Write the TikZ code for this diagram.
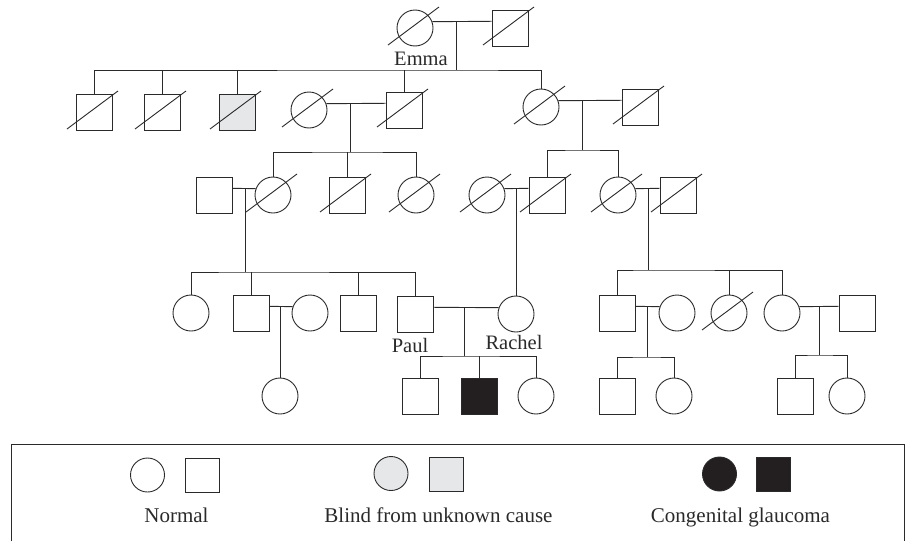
\documentclass[tikz,border=0pt]{standalone}
\usepackage{fontspec}
\setmainfont{Liberation Serif}
\usetikzlibrary{calc}
\definecolor{ink}{HTML}{2A2A2A}
\definecolor{blindgray}{HTML}{E6E7E8}
\definecolor{glaucoma}{HTML}{231F20}
\begin{document}
\begin{tikzpicture}[x=1pt,y=-1pt,line width=0.9pt,
  male/.style={draw=ink,rectangle,minimum size=36pt,inner sep=0pt},
  female/.style={draw=ink,circle,minimum size=36pt,inner sep=0pt},
  keymale/.style={draw=ink,rectangle,minimum size=34pt,inner sep=0pt},
  keyfemale/.style={draw=ink,circle,minimum size=34pt,inner sep=0pt},
  blind/.style={fill=blindgray},
  affected/.style={fill=glaucoma},
  kin/.style={draw=ink},
  deadmark/.style={draw=ink},
  namelabel/.style={font=\fontsize{20.5}{24}\selectfont,inner sep=0pt,anchor=base,text=ink},
  keylabel/.style={font=\fontsize{21}{25}\selectfont,inner sep=0pt,anchor=base,text=ink}]
\useasboundingbox (0,0) rectangle (910,541);

% ---------- generation I ----------
\node[female] (g1f) at (415,28) {};
\node[male]   (g1m) at (510,28) {};
\node[namelabel] (emma) at (421,65) {Emma};

% ---------- generation II ----------
\node[male]        (s1) at (94,112) {};
\node[male]        (s2) at (162,112) {};
\node[male,blind]  (s3) at (237,112) {};
\node[female]      (w2) at (309,110) {};
\node[male]        (s4) at (404,110) {};
\node[female]      (d1) at (541,107) {};
\node[male]        (h1) at (640,107) {};

% ---------- generation III ----------
\node[male]   (h2) at (214,195) {};
\node[female] (d2) at (273,195) {};
\node[male]   (s5) at (347,195) {};
\node[female] (d3) at (416,195) {};
\node[female] (w3) at (487,195) {};
\node[male]   (s6) at (547,195) {};
\node[female] (d4) at (618,195) {};
\node[male]   (h3) at (678,195) {};

% ---------- generation IV ----------
\node[female] (c1)     at (191,313) {};
\node[male]   (c2)     at (251,313) {};
\node[female] (w4)     at (310,313) {};
\node[male]   (c3)     at (358,313) {};
\node[male]   (paul)   at (415,314) {};
\node[female] (rachel) at (516,314) {};
\node[namelabel] (paullbl)   at (410,352) {Paul};
\node[namelabel] (rachellbl) at (514,349) {Rachel};
\node[male]   (r1) at (617,313) {};
\node[female] (rw) at (677,313) {};
\node[female] (r2) at (729,313) {};
\node[female] (r3) at (782,313) {};
\node[male]   (rh) at (857,313) {};

% ---------- generation V ----------
\node[female]        (gc1) at (280,396) {};
\node[male]          (pr1) at (420,396) {};
\node[male,affected] (pr2) at (479,396) {};
\node[female]        (pr3) at (536,396) {};
\node[male]          (ra1) at (617,396) {};
\node[female]        (ra2) at (674,396) {};
\node[male]          (rb1) at (795,396) {};
\node[female]        (rb2) at (847,396) {};

% ---------- marriage lines and descent ----------
% Emma and husband
\draw[kin] (g1f.20) -- (g1m.160);
\coordinate (m1) at ($(g1f.20)!0.4!(g1m.160)$);
\coordinate (k1) at (m1 |- 0,70);
\draw[kin] (m1) -- (k1);
\draw[kin] (s1.north) |- (k1) -| (d1.north);
\foreach \c in {s2,s3,s4} \draw[kin] (\c.north) -- (\c.north |- k1);

% left couple of generation II
\draw[kin] (w2.20) -- (s4.160);
\coordinate (m2) at ($(w2.20)!0.4!(s4.160)$);
\coordinate (k2) at (m2 |- 0,152);
\draw[kin] (m2) -- (k2);
\draw[kin] (d2.north) |- (k2) -| (d3.north);
\draw[kin] (s5.north) -- (s5.north |- k2);

% right couple of generation II
\draw[kin] (d1.20) -- (h1.160);
\coordinate (m3) at ($(d1.20)!0.38!(h1.160)$);
\coordinate (k3) at (m3 |- 0,150);
\draw[kin] (m3) -- (k3);
\draw[kin] (s6.north) |- (k3) -| (d4.north);

% generation III couples
\draw[kin] (h2.20) -- (d2.160);
\coordinate (m4) at ($(h2.20)!0.55!(d2.160)$);
\coordinate (k4) at (m4 |- 0,272);
\draw[kin] (m4) -- (k4);
\draw[kin] (c1.north) |- (k4) -| (paul.north);
\foreach \c in {c2,c3} \draw[kin] (\c.north) -- (\c.north |- k4);

\draw[kin] (w3.20) -- (s6.160);
\coordinate (m5) at (rachel.north |- w3.20);
\draw[kin] (m5) -- (rachel.north);

\draw[kin] (d4.20) -- (h3.160);
\coordinate (m6) at ($(d4.20)!0.55!(h3.160)$);
\coordinate (k6) at (m6 |- 0,270);
\draw[kin] (m6) -- (k6);
\draw[kin] (r1.north) |- (k6) -| (r3.north);
\draw[kin] (r2.north) -- (r2.north |- k6);

% generation IV couples
\draw[kin] (c2.20) -- (w4.160);
\coordinate (m7) at (gc1.north |- c2.20);
\draw[kin] (m7) -- (gc1.north);

\draw[kin] (paul.20) -- (rachel.160);
\coordinate (m8) at ($(paul.20)!0.47!(rachel.160)$);
\coordinate (k8) at (m8 |- 0,356);
\draw[kin] (m8) -- (k8);
\draw[kin] (pr1.north) |- (k8) -| (pr3.north);
\draw[kin] (pr2.north) -- (pr2.north |- k8);

\draw[kin] (r1.20) -- (rw.160);
\coordinate (m9) at ($(r1.20)!0.5!(rw.160)$);
\coordinate (k9) at (m9 |- 0,357);
\draw[kin] (m9) -- (k9);
\draw[kin] (ra1.north) |- (k9) -| (ra2.north);

\draw[kin] (r3.20) -- (rh.160);
\coordinate (m10) at ($(r3.20)!0.5!(rh.160)$);
\coordinate (k10) at (m10 |- 0,355);
\draw[kin] (m10) -- (k10);
\draw[kin] (rb1.north) |- (k10) -| (rb2.north);

% deceased individuals
\foreach \n in {g1f,g1m,s1,s2,s3,w2,s4,d1,h1,d2,s5,d3,w3,s6,d4,h3,r2}
  \draw[deadmark] ($(\n)+(-27,17)$) -- ($(\n)+(24,-21)$);

% ---------- key ----------
\draw[kin] (11,541) -- (11,444) -- (904,444) -- (904,541);
\node[keyfemale] (kn1) at (147.5,475) {};
\node[keymale]   (kn2) at (202.5,475) {};
\node[keyfemale,blind] (kb1) at (391,473.5) {};
\node[keymale,blind]   (kb2) at (446,474) {};
\node[keyfemale,affected] (ka1) at (719.5,474) {};
\node[keymale,affected]   (ka2) at (773.5,474) {};
\node[keylabel] (knl) at (176.5,522) {Normal};
\node[keylabel] (kbl) at (438.5,522) {Blind from unknown cause};
\node[keylabel] (kal) at (740.5,522) {Congenital glaucoma};
\end{tikzpicture}
\end{document}
